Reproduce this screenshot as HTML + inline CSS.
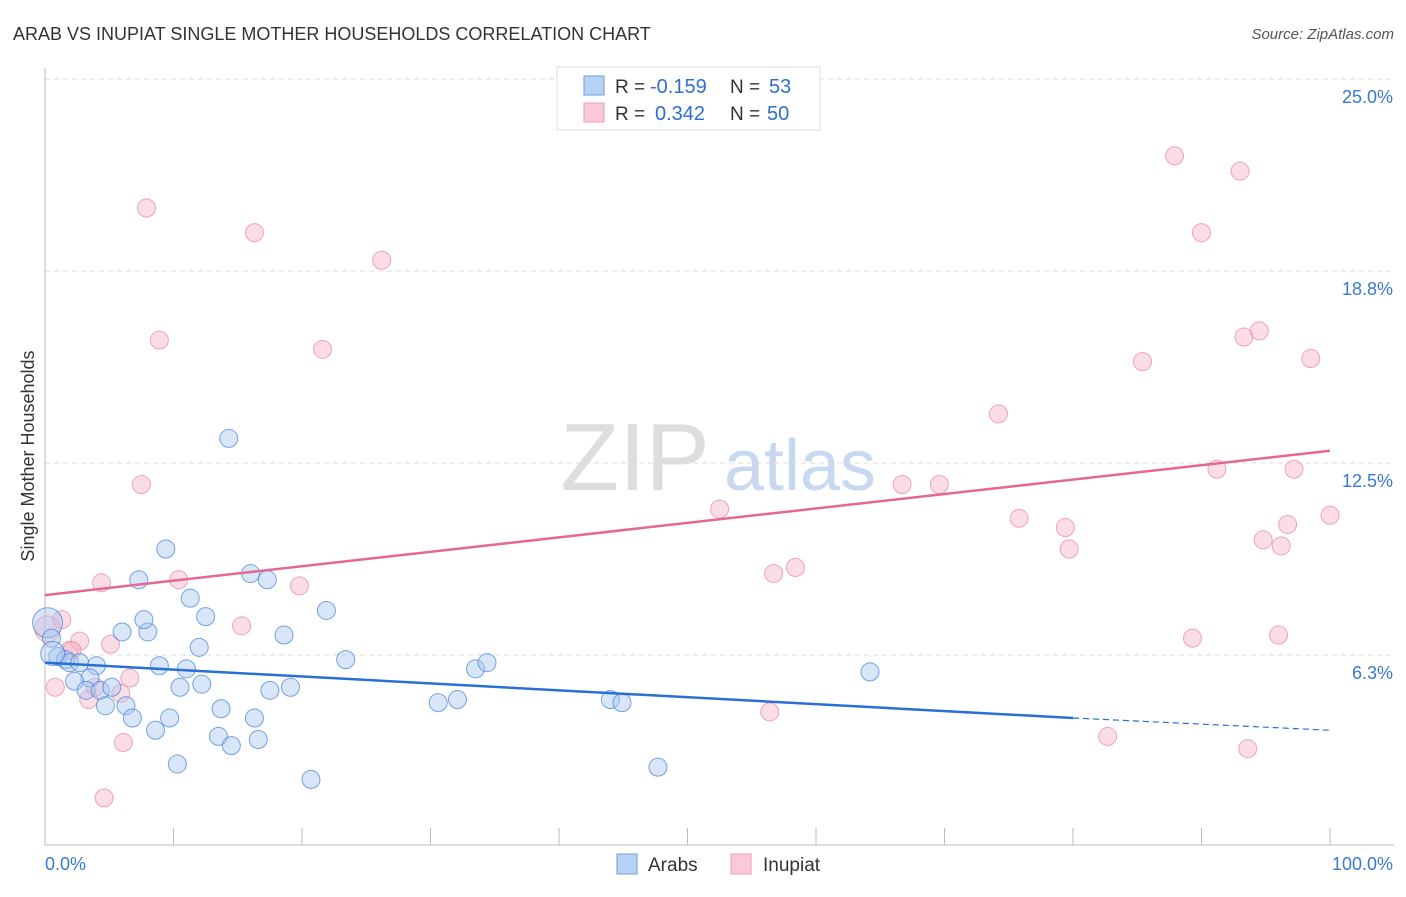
<!DOCTYPE html>
<html><head><meta charset="utf-8"><style>
body{margin:0;background:#fff;font-family:"Liberation Sans",sans-serif}
svg text{font-family:"Liberation Sans",sans-serif}
</style></head><body>
<svg id="c" width="1406" height="892">
<text x="13" y="40" font-size="18" fill="#333">ARAB VS INUPIAT SINGLE MOTHER HOUSEHOLDS CORRELATION CHART</text>
<text x="1394" y="39" font-size="15" fill="#555" font-style="italic" text-anchor="end">Source: ZipAtlas.com</text>
<text x="635" y="490" font-size="96" fill="#ddd" font-family="Liberation Serif" text-anchor="middle">ZIP</text>
<text x="800" y="490" font-size="72" fill="#c8d8f0" text-anchor="middle">atlas</text>
<text transform="translate(34,456) rotate(-90)" font-size="18" fill="#333" text-anchor="middle">Single Mother Households</text>
<g id="grid"></g><g id="pts"></g><g id="lines"></g>
<g>
<rect x="557" y="67" width="263" height="63" fill="#fff" stroke="#ddd"/>
<rect x="584" y="76" width="20" height="19" fill="#b8d2f4" stroke="#6a9ee0"/>
<rect x="584" y="103" width="20" height="19" fill="#fac8d6" stroke="#ee9ab2"/>
<text x="615" y="93" font-size="19" fill="#333">R =</text>
<text x="650" y="93" font-size="20" fill="#2d6fd0">-0.159</text>
<text x="730" y="93" font-size="19" fill="#333">N =</text>
<text x="769" y="93" font-size="20" fill="#2d6fd0">53</text>
<text x="615" y="120" font-size="19" fill="#333">R =</text>
<text x="655" y="120" font-size="20" fill="#2d6fd0">0.342</text>
<text x="730" y="120" font-size="19" fill="#333">N =</text>
<text x="767" y="120" font-size="20" fill="#2d6fd0">50</text>
</g>
<g>
<rect x="617" y="854" width="20" height="20" fill="#b8d2f4" stroke="#6a9ee0"/>
<text x="648" y="871" font-size="19" fill="#333">Arabs</text>
<rect x="731" y="854" width="20" height="20" fill="#fac8d6" stroke="#ee9ab2"/>
<text x="763" y="871" font-size="19" fill="#333">Inupiat</text>
</g>
</svg>
<script>
const yTicks=[25,18.75,12.5,6.25];
const yTickLabels=["25.0%","18.8%","12.5%","6.3%"];
const xTicks=[0,10,20,30,40,50,60,70,80,90,100];
const arabX=[0.2,0.5,1,1.6,1.9,2.7,4,3.5,2.3,3.2,4.3,5.2,4.7,6.3,6.8,6,8,7.7,7.3,9.4,11.3,12.5,12,8.9,11,10.5,12.2,9.7,8.6,13.7,13.5,14.5,16.3,16.6,10.3,14.3,16,17.3,18.6,17.5,19.1,21.9,23.4,20.7,30.6,32.1,33.5,34.4,44,44.9,47.7,64.2,0.6];
const arabY=[7.3,6.8,6.2,6.1,6.0,6.0,5.9,5.5,5.4,5.1,5.1,5.2,4.6,4.6,4.2,7.0,7.0,7.4,8.7,9.7,8.1,7.5,6.5,5.9,5.8,5.2,5.3,4.2,3.8,4.5,3.6,3.3,4.2,3.5,2.7,13.3,8.9,8.7,6.9,5.1,5.2,7.7,6.1,2.2,4.7,4.8,5.8,6.0,4.8,4.7,2.6,5.7,6.3];
const inuX=[0.2,1.3,0.8,1.9,2.7,2.1,3.9,3.4,4.6,4.4,5.1,6.1,5.9,6.6,7.5,7.9,8.9,10.4,15.3,16.3,19.8,21.6,26.2,52.5,56.4,56.7,58.4,66.7,69.6,74.2,75.8,79.4,79.7,82.7,85.4,87.9,89.3,90,91.2,93,93.3,94.5,93.6,94.8,96,96.2,96.7,97.2,98.5,100];
const inuY=[7.1,7.4,5.2,6.4,6.7,6.4,5.2,4.8,1.6,8.6,6.6,3.4,5.0,5.5,11.8,20.8,16.5,8.7,7.2,20.0,8.5,16.2,19.1,11.0,4.4,8.9,9.1,11.8,11.8,14.1,10.7,10.4,9.7,3.6,15.8,22.5,6.8,20.0,12.3,22.0,16.6,16.8,3.2,10.0,6.9,9.8,10.5,12.3,15.9,10.8];
const arabTrend=[0,6.0,80,4.2,100,3.8];
const inuTrend=[0,8.2,100,12.9];
const X=v=>45+v*12.85, Y=v=>847-v*30.72;
const NS='http://www.w3.org/2000/svg';
function mk(p,t,a){const e=document.createElementNS(NS,t);for(const k in a)e.setAttribute(k,a[k]);p.appendChild(e);return e;}
const g=document.getElementById('grid'),P=document.getElementById('pts'),L=document.getElementById('lines');
yTicks.forEach((v,i)=>{
 const l=mk(g,'line',{x1:45,x2:1394,y1:Y(v),y2:Y(v),stroke:'#ddd','stroke-dasharray':'5,4'});
 
 
 const t=mk(g,'text',{x:1393,y:Y(v)+24,'font-size':18,fill:'#3a78d4','text-anchor':'end'});t.textContent=yTickLabels[i];
 
 
});
const ax=mk(g,'path',{d:'M45,68V845H1394',fill:'none',stroke:'#bbb'});


xTicks.forEach(v=>{const t=mk(g,'line',{x1:X(v),x2:X(v),y1:828,y2:845,stroke:'#bbb'});
 
 });
[[0,'0.0%','start',45],[100,'100.0%','end',1393]].forEach(a=>{const t=mk(g,'text',{x:a[3],y:870,'font-size':18,fill:'#3a78d4','text-anchor':a[2]});t.textContent=a[1];
 
 });
function pts(xs,ys,f,s,name){xs.forEach((x,i)=>{
 const r=(name=='arab-point'&&i==0)?15:(name=='arab-point'&&i==52)?12:(i==0)?13:9;
 const c=mk(P,'circle',{cx:X(x),cy:Y(ys[i]),r:r,fill:f,'fill-opacity':0.45,stroke:s,'stroke-opacity':0.75,'stroke-width':1});
 
 });}
pts(inuX,inuY,'#f6b4c8','#e88aa6','inupiat-point');
pts(arabX,arabY,'#a8c8f0','#4a86d8','arab-point');
let l1=mk(L,'line',{x1:X(arabTrend[0]),y1:Y(arabTrend[1]),x2:X(arabTrend[2]),y2:Y(arabTrend[3]),stroke:'#2a6fd6','stroke-width':2.5});


let l2=mk(L,'line',{x1:X(arabTrend[2]),y1:Y(arabTrend[3]),x2:X(arabTrend[4]),y2:Y(arabTrend[5]),stroke:'#2a6fd6','stroke-width':1.2,'stroke-dasharray':'6,4'});


let l3=mk(L,'line',{x1:X(inuTrend[0]),y1:Y(inuTrend[1]),x2:X(inuTrend[2]),y2:Y(inuTrend[3]),stroke:'#e46892','stroke-width':2.5});


</script>
</body></html>
